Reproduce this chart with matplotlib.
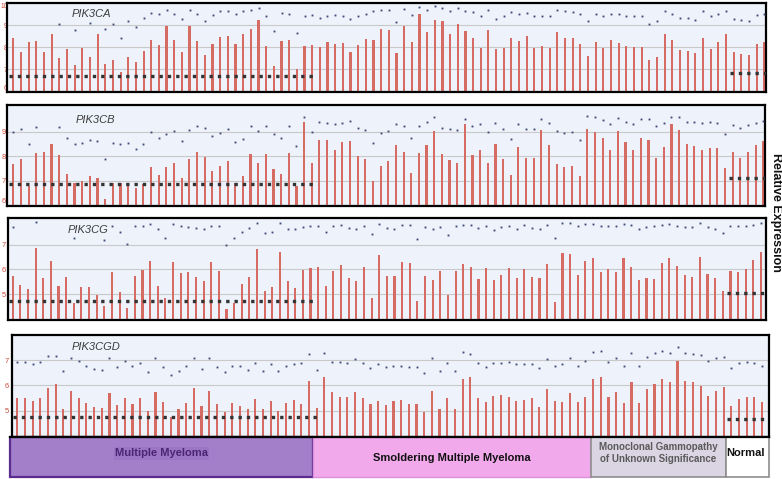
import matplotlib

matplotlib.use("Agg")
import matplotlib.pyplot as plt
import numpy as np
from matplotlib.patches import Rectangle

plt.rcParams["font.family"] = ["Liberation Sans", "DejaVu Sans"]

nan = np.nan

GENES = ["PIK3CA", "PIK3CB", "PIK3CG", "PIK3CGD"]
GROUP_NAMES = [
    "Multiple Myeloma",
    "Smoldering Multiple Myeloma",
    "Monoclonal Gammopathy\nof Unknown Significance",
    "Normal",
]
# samples per group as drawn in each panel (PIK3CGD shows one SMM sample fewer)
GROUP_SIZES = {
    "PIK3CA": [40, 36, 18, 5],
    "PIK3CB": [40, 36, 18, 5],
    "PIK3CG": [40, 36, 18, 5],
    "PIK3CGD": [40, 35, 18, 5],
}

# bar height per sample
BARS = {
    "PIK3CA": [
        8.40, 7.79, 8.24, 8.29, 7.77, 8.58, 7.50, 7.93, 7.19, 7.99, 7.54, 8.58, 7.23, 7.42, 6.89, 7.57, 7.32,
        7.84, 8.32, 8.09, 8.98, 8.35, 7.79, 8.95, 8.27, 7.64, 8.14, 8.47, 8.51, 8.15, 8.59, 8.83, 9.22,
        8.06, 7.15, 8.29, 8.32, 7.03, 8.04, 8.11, 8.00, 8.22, 8.15, 8.20, 7.77, 8.11, 8.36, 8.33, 8.82, 8.76,
        7.75, 8.98, 8.22, 9.49, 8.69, 9.25, 9.19, 8.58, 9.03, 8.73, 8.40, 7.97, 8.80, 7.90, 7.97, 8.42, 8.29,
        8.50, 7.95, 8.08, 7.99, 8.68, 8.44, 8.41, 8.15, 7.60, 8.24, 7.95, 8.31, 8.20, 8.04, 8.00, 8.00, 7.41,
        7.57, 8.58, 8.32, 7.87, 7.82, 7.72, 8.41, 7.90, 8.23, 8.62, 7.77, 7.69, 7.64, 8.14, 8.22,
    ],
    "PIK3CB": [
        7.67, 7.87, 6.78, 8.12, 8.18, 8.49, 8.05, 7.26, 6.89, 7.00, 7.19, 7.10, 6.24, 6.89, 6.92, 6.82, 6.69,
        6.87, 7.57, 7.23, 7.56, 7.71, 7.10, 7.87, 8.16, 7.98, 7.40, 7.60, 7.82, 6.92, 7.19, 8.09, 7.71,
        8.08, 7.47, 7.26, 8.14, 6.78, 9.38, 7.71, 8.65, 8.66, 8.25, 8.58, 8.62, 8.01, 7.90, 7.00, 7.60, 7.79,
        8.46, 8.18, 7.30, 8.14, 8.46, 9.04, 8.09, 7.84, 7.73, 9.31, 8.05, 8.25, 7.73, 8.51, 7.90, 7.23, 8.39,
        7.91, 7.91, 9.06, 8.44, 7.67, 7.55, 7.60, 7.18, 9.10, 8.98, 8.73,
        8.25, 9.04, 8.57, 8.25, 8.73, 8.66, 7.91, 8.39, 9.30, 9.07, 8.50, 8.42, 8.25, 8.35, 8.35, 7.53, 8.16,
        7.91, 8.18, 8.46, 8.62,
    ],
    "PIK3CG": [
        5.74, 5.38, 5.20, 6.85, 5.67, 6.34, 5.33, 5.71, 4.66, 5.28, 5.31, 4.97, 4.54, 5.91, 5.10, 4.44, 5.75,
        5.98, 6.34, 5.35, 4.84, 6.31, 5.85, 5.89, 5.71, 5.55, 6.29, 5.94, 4.41, 4.66, 5.42, 5.69, 6.82,
        5.15, 5.31, 6.72, 5.55, 5.24, 5.97, 6.06, 6.11, 5.35, 5.94, 6.18, 5.64, 5.55, 6.11, 4.86, 6.57, 5.74,
        5.74, 6.30, 6.26, 4.74, 5.75, 5.56, 5.94, 4.96, 5.94, 6.23, 6.09, 5.62, 6.07, 5.56, 5.78, 6.05, 5.64,
        6.01,
        5.69, 5.64, 6.21, 4.70, 6.68, 6.63, 5.78, 6.34, 6.48, 5.89, 6.01, 5.91, 6.45, 6.09, 5.58, 5.67, 5.62,
        6.27, 6.48, 6.15, 5.77, 5.71, 6.52, 5.81, 5.67, 5.12, 5.94, 5.89, 6.01, 6.38, 6.69,
    ],
    "PIK3CGD": [
        5.51, 5.51, 5.39, 5.51, 5.88, 6.04, 5.06, 5.79, 5.51, 5.31, 5.15, 5.11, 5.71, 5.22, 5.51, 5.25, 5.49,
        4.99, 5.72, 5.33, 4.76, 5.05, 5.29, 5.88, 5.18, 5.79, 5.25, 4.96, 5.29, 5.19, 5.06, 5.45,
        5.06, 5.38, 4.99, 5.31, 5.42, 5.26, 6.18, 5.09, 6.33, 5.72, 5.55, 5.53, 5.75, 5.51, 5.26, 5.37, 5.23,
        5.39, 5.42, 5.26, 5.25, 4.93, 5.79, 5.06, 5.51, 5.05, 6.25, 6.32, 5.51, 5.33, 5.59, 5.60, 5.55,
        5.39, 5.42, 5.50, 5.13, 5.84, 5.37, 5.35, 5.68, 5.33, 5.55, 6.24, 6.32, 5.55, 5.72, 5.31, 6.14, 5.29,
        5.84, 6.04, 6.25, 6.14, 6.97, 6.17, 6.12, 5.98, 5.59, 5.79, 5.92, 5.19, 5.46, 5.53, 5.55, 5.33,
    ],
}

# dot value per sample (nan where no dot is visible)
DOTS = {
    "PIK3CA": [
        nan, nan, nan, nan, nan, nan, 9.07, nan, 8.77, nan, 9.10, nan, 8.82, 9.03, 8.42, 9.19, 8.92,
        9.30, 9.57, 9.49, 9.68, 9.52, 9.28, 9.68, 9.49, 9.19, 9.45, 9.63, 9.64, 9.49, 9.63, 9.70, 9.76,
        9.41, 8.73, 9.57, 9.52, 8.65, 9.40, 9.45, 9.34, 9.41, 9.45, 9.41, 9.27, 9.41, 9.52, 9.63, 9.70, 9.70,
        9.14, 9.75, 9.45, 9.82, 9.70, 9.85, 9.79, 9.63, 9.79, 9.63, 9.59, 9.40, 9.70, 9.27, 9.40, 9.58, 9.49,
        9.57, 9.40, 9.40, 9.40, 9.70, 9.64, 9.59, 9.52, 9.19, 9.52, 9.41, 9.52, 9.49, 9.41, 9.41, 9.41, 9.03,
        9.19, 9.63, 9.49, 9.30, 9.30, 9.22, 9.63, 9.40, 9.49, 9.64, 9.27, 9.22, 9.19, 9.45, 9.52,
    ],
    "PIK3CB": [
        8.98, 9.10, 8.49, 9.20, nan, nan, 9.19, 8.73, 8.49, 8.55, 8.66, 8.62, 7.87, 8.53, 8.49, 8.55, 8.29,
        8.49, 8.98, 8.73, 8.91, 9.03, 8.62, 9.07, 9.23, 9.14, 8.84, 8.96, 9.10, 8.59, 8.71, 9.23, 9.04,
        9.23, 8.91, 8.73, 9.23, 8.43, 9.59, 8.98, 9.41, 9.34, 9.30, 9.34, 9.45, 9.14, 9.07, 8.55, 8.96, 9.03,
        9.30, 9.23, 8.73, 9.23, 9.38, 9.59, 9.14, 9.10, 9.07, 9.52, 9.23, 9.30, 8.98, 9.34, 9.10, 8.71, 9.30,
        9.10, 9.10, 9.52, 9.34, 9.03, 8.96, 8.98, 8.66, 9.64, 9.59, 9.46,
        9.30, 9.55, 9.41, 9.30, 9.51, 9.51, 9.23, 9.34, 9.59, 9.59, 9.38, 9.38, 9.34, 9.38, 9.34, 8.91, 9.27,
        9.14, 9.27, 9.34, 9.44,
    ],
    "PIK3CG": [
        7.73, nan, nan, 7.93, nan, nan, nan, nan, 7.28, nan, nan, nan, 7.19, 7.77, 7.50, 7.03, 7.77,
        7.77, 7.82, 7.63, 7.26, 7.82, 7.77, 7.70, 7.66, 7.63, 7.77, 7.77, 6.99, 7.26, 7.53, 7.66, 7.89,
        7.46, 7.53, 7.89, 7.63, 7.63, 7.73, 7.77, 7.77, 7.50, 7.77, 7.79, 7.66, 7.63, 7.77, 7.42, 7.82, 7.66,
        7.63, 7.79, 7.79, 7.22, 7.73, 7.63, 7.73, 7.39, 7.77, 7.79, 7.79, 7.66, 7.75, 7.59, 7.73, 7.77, 7.65,
        7.78,
        7.66, 7.63, 7.79, 7.26, 7.86, 7.89, 7.77, 7.83, 7.82, 7.77, 7.77, 7.77, 7.82, 7.79, 7.63, 7.73, 7.77,
        7.79, 7.82, 7.77, 7.70, 7.70, 7.86, 7.70, 7.63, 7.46, 7.77, 7.77, 7.77, 7.79, 7.86,
    ],
    "PIK3CGD": [
        6.91, 6.91, 6.84, 6.91, 7.16, 7.16, 6.58, 7.09, 6.96, 6.78, 6.64, 6.60, 7.09, 6.74, 6.96, 6.78, 6.89,
        6.54, 7.07, 6.74, 6.41, 6.58, 6.78, 7.07, 6.64, 7.07, 6.74, 6.54, 6.78, 6.78, 6.60, 6.89,
        6.58, 6.84, 6.58, 6.78, 6.84, 6.87, 7.22, 6.60, 7.26, 6.93, 6.93, 6.87, 7.03, 6.87, 6.70, 6.83, 6.74,
        6.78, 6.78, 6.74, 6.74, 6.50, 7.07, 6.58, 6.87, 6.58, 7.33, 7.22, 6.89, 6.74, 6.89, 6.90, 6.92,
        6.84, 6.84, 6.84, 6.67, 7.03, 6.78, 6.84, 7.07, 6.78, 6.97, 7.33, 7.37, 6.93, 7.07, 6.78, 7.26, 6.78,
        7.13, 7.26, 7.37, 7.26, 7.53, 7.26, 7.22, 7.20, 6.97, 7.07, 7.13, 6.70, 6.87, 6.91, 6.89, 6.78,
    ],
}

# dashed group levels (Multiple Myeloma, Normal)
MM_LEVEL = {"PIK3CA": 6.70, "PIK3CB": 6.87, "PIK3CG": 4.74, "PIK3CGD": 4.76}
NORMAL_LEVEL = {"PIK3CA": 6.85, "PIK3CB": 7.10, "PIK3CG": 5.04, "PIK3CGD": 4.67}

YTICKS = {
    "PIK3CA": [6, 7, 8, 9, 10],
    "PIK3CB": [6, 7, 8, 9],
    "PIK3CG": [5, 6, 7],
    "PIK3CGD": [5, 6, 7],
}

# ---- layout (pixels of a 782x479 canvas) ----
W, H = 782, 479
FRAME = {  # x0, y0, x1, y1
    "PIK3CA": (7, 3, 766, 92),
    "PIK3CB": (7, 105, 765, 206),
    "PIK3CG": (8, 218, 766, 320),
    "PIK3CGD": (12, 335, 769, 437),
}
BAR_SPAN = {  # pixel x of first and last bar
    "PIK3CA": (13.3, 764.3),
    "PIK3CB": (13.3, 763.3),
    "PIK3CG": (12.7, 761.0),
    "PIK3CGD": (17.3, 762.0),
}
YLIM = {
    "PIK3CA": (5.98, 9.99),
    "PIK3CB": (5.97, 10.09),
    "PIK3CG": (3.96, 8.08),
    "PIK3CGD": (3.96, 7.99),
}
TICK_STYLE = {  # label size, pad
    "PIK3CA": (4.8, -0.5),
    "PIK3CB": (5.5, 1.0),
    "PIK3CG": (5.5, 1.5),
    "PIK3CGD": (5.5, 2.5),
}
TITLE_POS = {"PIK3CA": (72, 13.5), "PIK3CB": (76, 120), "PIK3CG": (68, 229.5), "PIK3CGD": (72, 347.5)}

BAR_COLOR = "#d66b64"
DOT_COLOR = "#3f4a78"
DASH_COLOR = "#333333"
PANEL_BG = "#eef3fb"
GRID_COLOR = "#c9c9c9"
TICK_COLOR = "#cc4a3a"

BOXES = [  # x0, x1, face, edge, lw, text colour, text y
    (10, 313, "#a37ec9", "#5b2c8f", 1.6, "#4a2574", 453.5),
    (313, 591, "#f1a9ec", "#e08fdc", 1.0, "#111111", 458),
    (591, 726, "#dbd5e3", "#8d8d8d", 1.2, "#5a5a5a", 453.5),
    (726, 769, "#ffffff", "#8d8d8d", 1.2, "#111111", 453.5),
]


def draw_panel(fig, gene):
    x0, y0, x1, y1 = FRAME[gene]
    ax = fig.add_axes([x0 / W, 1 - y1 / H, (x1 - x0) / W, (y1 - y0) / H])
    bars = np.array(BARS[gene])
    dots = np.array(DOTS[gene])
    n = len(bars)
    xs = np.arange(n)
    first, last = BAR_SPAN[gene]
    step = (last - first) / (n - 1)
    ax.set_xlim(-(first - x0) / step, n - 1 + (x1 - last) / step)
    lo, hi = YLIM[gene]
    ax.set_ylim(lo, hi)

    ax.set_facecolor(PANEL_BG)
    ax.set_yticks(YTICKS[gene])
    ax.set_xticks([])
    ax.grid(axis="y", color=GRID_COLOR, linewidth=0.8)
    ax.set_axisbelow(True)
    size, pad = TICK_STYLE[gene]
    ax.tick_params(axis="y", length=0, pad=pad, labelsize=size, labelcolor=TICK_COLOR)
    labels = ax.get_yticklabels()
    if YTICKS[gene][0] < lo + 0.15:
        labels[0].set_va("bottom")
    if YTICKS[gene][-1] > hi - 0.15:
        labels[-1].set_va("top")
    for sp in ax.spines.values():
        sp.set_linewidth(1.6)
        sp.set_color("black")

    ax.bar(xs, bars - lo, bottom=lo, width=0.28, color=BAR_COLOR, linewidth=0, zorder=2)
    ax.plot(xs, dots, linestyle="none", marker="s", markersize=1.35, markeredgewidth=0,
            color=DOT_COLOR, zorder=3)

    sizes = GROUP_SIZES[gene]
    starts = np.concatenate([[0], np.cumsum(sizes)])
    dash = dict(color=DASH_COLOR, linewidth=2.4, linestyle=(0, (1, 1.5)), dash_capstyle="butt", zorder=4)
    ax.plot([starts[0] - 0.5, starts[1] - 0.5], [MM_LEVEL[gene]] * 2, **dash)
    ax.plot([starts[3] - 0.5, starts[4] - 0.5], [NORMAL_LEVEL[gene]] * 2, **dash)
    return ax


fig = plt.figure(figsize=(W / 100, H / 100), dpi=100)
for gene in GENES:
    draw_panel(fig, gene)

# overlay in pixel coordinates for titles, group boxes and the side label
ov = fig.add_axes([0, 0, 1, 1], facecolor="none")
ov.set_xlim(0, W)
ov.set_ylim(H, 0)
ov.axis("off")

for gene in GENES:
    tx, ty = TITLE_POS[gene]
    ov.text(tx, ty, gene, fontsize=8, style="italic", color="#3c3c3c", ha="left", va="center")

for name, (bx0, bx1, face, edge, lw, tcol, ty) in zip(GROUP_NAMES, BOXES):
    ov.add_patch(Rectangle((bx0, 437), bx1 - bx0, 40, facecolor=face, edgecolor=edge, linewidth=lw))
    if "\n" in name:
        ov.text((bx0 + bx1) / 2, ty, name, fontsize=7, fontweight="bold", color=tcol,
                ha="center", va="center", linespacing=1.25)
    elif name == "Multiple Myeloma":
        ov.text((bx0 + bx1) / 2, ty, name, fontsize=8, fontweight="bold", color=tcol,
                ha="center", va="center",
                bbox=dict(facecolor="#9c76c4", edgecolor="none", pad=1.0))
    else:
        ov.text((bx0 + bx1) / 2 - (2 if name == "Normal" else 0), ty, name, fontsize=8,
                fontweight="bold", color=tcol, ha="center", va="center")

# thick top edge of the group strip
ov.plot([10, 769], [437, 437], color="black", linewidth=1.6)

ov.text(776, 212, "Relative Expression", rotation=270, fontsize=9, fontweight="bold",
        color="#111111", ha="center", va="center")

fig.savefig("out.png", dpi=100)
plt.close(fig)
